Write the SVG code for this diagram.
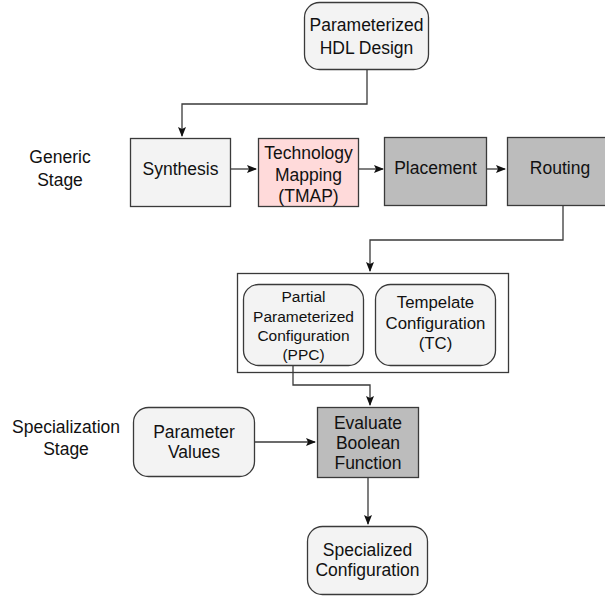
<svg xmlns="http://www.w3.org/2000/svg" width="605" height="596" viewBox="0 0 605 596">
<style>
text{font-family:"Liberation Sans",Arial,sans-serif;font-size:17.5px;fill:#111;text-anchor:middle}
.s{font-size:15.5px}
.m{font-size:16.8px}
.box{stroke:#3a3a3a;stroke-width:1.3}
.light{fill:#f3f3f3}
.pink{fill:#ffdada}
.gray{fill:#bcbcbc}
.conn{fill:none;stroke:#3a3a3a;stroke-width:1.3}
</style>
<defs>
<marker id="ah" markerWidth="10" markerHeight="8" refX="9" refY="4" orient="auto" markerUnits="userSpaceOnUse">
<path d="M0,0 L10,4 L0,8 L2,4 z" fill="#111"/>
</marker>
</defs>
<rect width="605" height="596" fill="#fff"/>
<g id="labels">
<text x="60" y="163">Generic</text>
<text x="60" y="186">Stage</text>
<text x="66" y="433">Specialization</text>
<text x="66" y="455">Stage</text>
</g>
<g id="connectors">
<path class="conn" d="M367,69 V104 H182 V136" marker-end="url(#ah)"/>
<path class="conn" d="M231,169 H256" marker-end="url(#ah)"/>
<path class="conn" d="M359,169 H383" marker-end="url(#ah)"/>
<path class="conn" d="M487,169 H505" marker-end="url(#ah)"/>
<path class="conn" d="M563,206 V240 H370 V271" marker-end="url(#ah)"/>
<path class="conn" d="M293,365 V385 H370 V405" marker-end="url(#ah)"/>
<path class="conn" d="M254,442 H315" marker-end="url(#ah)"/>
<path class="conn" d="M368,477 V524" marker-end="url(#ah)"/>
</g>
<g id="hdl">
<rect class="box light" x="304.5" y="2.5" width="124" height="67" rx="15"/>
<text x="366.5" y="31">Parameterized</text>
<text x="366.5" y="54">HDL Design</text>
</g>
<g id="synthesis">
<rect class="box light" x="130.5" y="138.5" width="100" height="68"/>
<text x="180.5" y="175">Synthesis</text>
</g>
<g id="tmap">
<rect class="box pink" x="258.5" y="138.5" width="100" height="68"/>
<text x="308.5" y="159">Technology</text>
<text x="308.5" y="181">Mapping</text>
<text x="308.5" y="202">(TMAP)</text>
</g>
<g id="placement">
<rect class="box gray" x="384.5" y="137.5" width="102" height="68"/>
<text x="435.5" y="174">Placement</text>
</g>
<g id="routing">
<rect class="box gray" x="507.5" y="137.5" width="100" height="68"/>
<text x="560" y="174">Routing</text>
</g>
<g id="config-group">
<rect class="box" fill="none" x="237.5" y="273.5" width="271" height="99"/>
</g>
<g id="ppc">
<rect class="box light" x="243.5" y="284.5" width="120" height="81" rx="15"/>
<text class="s" x="303.5" y="302">Partial</text>
<text class="s" x="303.5" y="322">Parameterized</text>
<text class="s" x="303.5" y="341">Configuration</text>
<text class="s" x="303.5" y="360">(PPC)</text>
</g>
<g id="tc">
<rect class="box light" x="375.5" y="284.5" width="120" height="81" rx="15"/>
<text class="m" x="435.5" y="308">Tempelate</text>
<text class="m" x="435.5" y="329">Configuration</text>
<text class="m" x="435.5" y="349">(TC)</text>
</g>
<g id="param-values">
<rect class="box light" x="133.5" y="407.5" width="121" height="69" rx="15"/>
<text x="194" y="438">Parameter</text>
<text x="194" y="458">Values</text>
</g>
<g id="evaluate">
<rect class="box gray" x="317.5" y="407.5" width="101" height="70"/>
<text x="368" y="429">Evaluate</text>
<text x="368" y="449">Boolean</text>
<text x="368" y="469">Function</text>
</g>
<g id="specialized">
<rect class="box light" x="307.5" y="526.5" width="120" height="68" rx="15"/>
<text x="367.5" y="556">Specialized</text>
<text x="367.5" y="576">Configuration</text>
</g>
</svg>
